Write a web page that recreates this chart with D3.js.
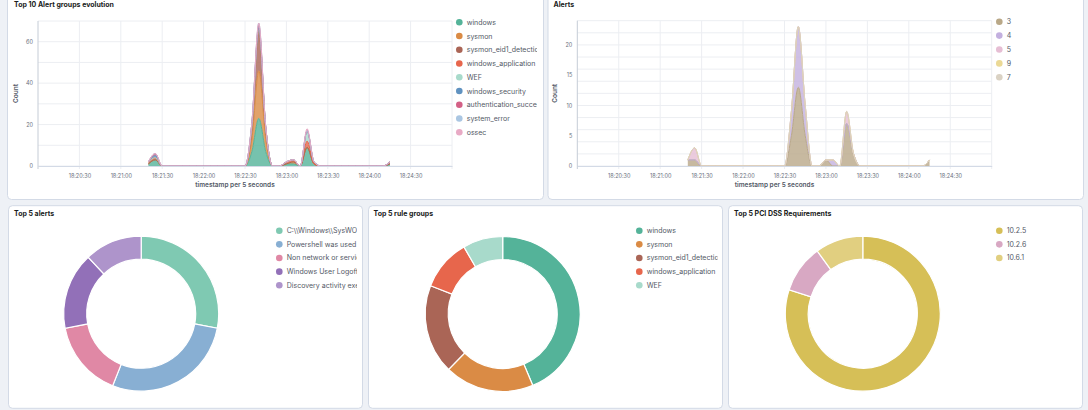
<!DOCTYPE html>
<html>
<head>
<meta charset="utf-8">
<script src="https://cdn.jsdelivr.net/npm/d3@7"></script>
<style>
    body { margin: 0; background: #eef1f6; font-family: Inter, "Noto Sans", sans-serif; }
    svg { display: block; }
</style>
</head>
<body>
<svg id="dash" width="1088" height="410"></svg>
<script>
// date histogram buckets, 5 seconds each
const buckets = [
    "18:21:20","18:21:25","18:21:30","18:21:35","18:21:40","18:21:45","18:21:50","18:21:55",
    "18:22:00","18:22:05","18:22:10","18:22:15","18:22:20","18:22:25","18:22:30","18:22:35","18:22:40","18:22:45","18:22:50","18:22:55",
    "18:23:00","18:23:05","18:23:10","18:23:15","18:23:20","18:23:25","18:23:30","18:23:35","18:23:40","18:23:45","18:23:50","18:23:55",
    "18:24:00","18:24:05","18:24:10","18:24:15"
];
const xDomainLabels = ["18:20:00", "18:25:00"];
const xTickLabels = ["18:20:30","18:21:00","18:21:30","18:22:00","18:22:30","18:23:00","18:23:30","18:24:00","18:24:30"];

// Top 10 Alert groups evolution
const groupNames = ["windows","sysmon","sysmon_eid1_detections","windows_application","WEF","windows_security","authentication_success","system_error","ossec"];
const windowsCounts      = [1,3,0,0,0,0,0,0, 0,0,0,0,0,0,0,7,23,7,0,0, 1,1,0,9,1,0,0,0,0,0,0,0, 0,0,0,1];
const sysmonCounts       = [0,0,0,0,0,0,0,0, 0,0,0,0,0,0,0,6,23,6,0,0, 0,1,0,0,0,0,0,0,0,0,0,0, 0,0,0,0];
const sysmonEid1Counts   = [0,0,0,0,0,0,0,0, 0,0,0,0,0,0,0,5,19,5,0,0, 0,0,0,0,0,0,0,0,0,0,0,0, 0,0,0,0];
const winAppCounts       = [1,1,0,0,0,0,0,0, 0,0,0,0,0,0,0,1,1,1,0,0, 1,1,0,3,0,0,0,0,0,0,0,0, 0,0,0,1];
const wefCounts          = [0,0,0,0,0,0,0,0, 0,0,0,0,0,0,0,0,0,0,0,0, 0,0,0,5,1,0,0,0,0,0,0,0, 0,0,0,0];
const winSecurityCounts  = [0,1,0,0,0,0,0,0, 0,0,0,0,0,0,0,2,1,0,0,0, 0,0,0,0,0,0,0,0,0,0,0,0, 0,0,0,0];
const authSuccessCounts  = [0,1,0,0,0,0,0,0, 0,0,0,0,0,0,0,0,1,0,0,0, 0,0,0,0,0,0,0,0,0,0,0,0, 0,0,0,0];
const systemErrorCounts  = [0,0,0,0,0,0,0,0, 0,0,0,0,0,0,0,0,1,0,0,0, 0,0,0,0,0,0,0,0,0,0,0,0, 0,0,0,0];
const ossecCounts        = [0,0,0,0,0,0,0,0, 0,0,0,0,0,0,0,0,0,0,0,0, 0,0,0,1,0,0,0,0,0,0,0,0, 0,0,0,0];
const groupColors = ["#54B399","#DA8B45","#AA6556","#E7664C","#A8DACB","#6092C0","#D36086","#AAC6E2","#E8AAC5"];

// Alerts by rule level
const levelNames = ["3","4","5","9","7"];
const level3Counts = [1,1,0,0,0,0,0,0, 0,0,0,0,0,0,0,5,13,5,0,0, 1,0,0,7,2,0,0,0,0,0,0,0, 0,0,0,1];
const level4Counts = [0,0,0,0,0,0,0,0, 0,0,0,0,0,0,0,4,10,5,0,0, 0,1,0,0,0,0,0,0,0,0,0,0, 0,0,0,0];
const level5Counts = [0,2,0,0,0,0,0,0, 0,0,0,0,0,0,0,0,0,0,0,0, 0,0,0,2,0,0,0,0,0,0,0,0, 0,0,0,0];
const level9Counts = [0,0,0,0,0,0,0,0, 0,0,0,0,0,0,0,0,0,0,0,0, 0,0,0,0,0,0,0,0,0,0,0,0, 0,0,0,0];
const level7Counts = [0,0,0,0,0,0,0,0, 0,0,0,0,0,0,0,0,0,0,0,0, 0,0,0,0,0,0,0,0,0,0,0,0, 0,0,0,0];
const levelColors = ["#B9A888","#C3B0DF","#E6BED4","#EBD996","#DAD2C4"];

// donuts
const alertNames = ["C:\\\\Windows\\\\SysWOW64\\\\WindowsPowerShell\\\\v1.0\\\\powershell.exe", "Powershell was used to execute a script", "Non network or service logon", "Windows User Logoff.", "Discovery activity executed"];
const alertCounts = [7, 7, 4, 4, 3];
const alertColors = ["#7FC9B2","#88AFD3","#E088A5","#9270B8","#AE94CB"];

const ruleGroupNames = ["windows","sysmon","sysmon_eid1_detections","windows_application","WEF"];
const ruleGroupCounts = [110, 47, 47, 27, 21];
const ruleGroupColors = ["#54B399","#DA8B45","#AA6556","#E7664C","#A8DACB"];

const pciNames = ["10.2.5","10.2.6","10.6.1"];
const pciCounts = [8, 1, 1];
const pciColors = ["#D6BF57","#D8A8C3","#E1CF80"];

const svg = d3.select("#dash");
const parseTime = d3.timeParse("%H:%M:%S");
const textColor = "#343741";
const subdued = "#69707D";

function panel(x, y, w, h, title, tx, ty) {
    svg.append("rect")
        .attr("x", x).attr("y", y).attr("width", w).attr("height", h)
        .attr("rx", 4).attr("fill", "#fff")
        .attr("stroke", "#D3DAE6");
    svg.append("text")
        .attr("x", tx).attr("y", ty)
        .style("font-size", "7px").style("font-weight", 700)
        .attr("fill", "#1a1c21")
        .text(title);
}

function legend(id, names, colors, dotX, top, step, clipRight) {
    svg.append("clipPath").attr("id", id)
        .append("rect").attr("x", dotX - 6).attr("y", top - 8)
        .attr("width", clipRight - dotX + 6).attr("height", step * names.length + 10);
    const g = svg.append("g").attr("clip-path", "url(#" + id + ")");
    names.forEach((n, i) => {
        g.append("circle").attr("cx", dotX).attr("cy", top + i * step).attr("r", 3.3).attr("fill", colors[i]);
        g.append("text").attr("x", dotX + 7.4).attr("y", top + i * step).attr("dy", "0.35em")
            .style("font-size", "7px").attr("fill", "#535966").text(n);
    });
}

function areaChart(opt) {
    const x = d3.scaleTime().domain(xDomainLabels.map(parseTime)).range([opt.left, opt.right]);
    const y = d3.scaleLinear().domain([0, opt.yMax]).range([opt.bottom, opt.top]);

    const rows = buckets.map((b, i) => {
        const r = { time: parseTime(b) };
        opt.keys.forEach((k, j) => { r[k] = opt.series[j][i]; });
        return r;
    });
    const stacked = d3.stack().keys(opt.keys)(rows);

    const grid = svg.append("g").attr("stroke", "#ECEEF2").attr("stroke-width", 1);
    grid.selectAll(".h").data(d3.range(0, opt.yMax + 0.01, opt.gridStep)).enter()
        .append("line")
        .attr("x1", opt.left).attr("x2", opt.right)
        .attr("y1", d => y(d)).attr("y2", d => y(d));
    grid.selectAll(".v").data(xTickLabels.map(parseTime)).enter()
        .append("line")
        .attr("x1", d => x(d)).attr("x2", d => x(d))
        .attr("y1", opt.top).attr("y2", opt.bottom + 3);
    grid.append("line").attr("x1", opt.right).attr("x2", opt.right)
        .attr("y1", opt.top).attr("y2", opt.bottom + 3);

    const area = d3.area()
        .x(d => x(d.data.time))
        .y0(d => y(d[0]))
        .y1(d => y(d[1]))
        .curve(d3.curveMonotoneX);
    const line = d3.line()
        .x(d => x(d.data.time))
        .y(d => y(d[1]))
        .curve(d3.curveMonotoneX);

    svg.append("g").selectAll("path").data(stacked).enter()
        .append("path")
        .attr("d", area)
        .attr("fill", (d, i) => opt.colors[i])
        .attr("fill-opacity", 0.8);
    svg.append("g").selectAll("path").data(stacked).enter()
        .append("path")
        .attr("d", line)
        .attr("fill", "none")
        .attr("stroke", (d, i) => opt.colors[i])
        .attr("stroke-width", 1);

    // axes
    const xAxis = svg.append("g")
        .attr("transform", "translate(0," + opt.bottom + ")")
        .call(d3.axisBottom(x).tickValues(xTickLabels.map(parseTime))
            .tickFormat(d3.timeFormat("%H:%M:%S")).tickSize(0).tickPadding(8));
    xAxis.select(".domain").attr("stroke", "#D3DAE6");
    xAxis.selectAll("text").style("font-size", "5.5px").style("font-family", "Inter").attr("fill", subdued);

    const yAxis = svg.append("g")
        .attr("transform", "translate(" + opt.left + ",0)")
        .call(d3.axisLeft(y).tickValues(opt.yTicks).tickSize(0).tickPadding(5));
    yAxis.select(".domain").remove();
    yAxis.selectAll("text").style("font-size", "5.5px").style("font-family", "Inter").attr("fill", subdued);
    yAxis.append("line").attr("x1", 0).attr("x2", 0)
        .attr("y1", opt.top).attr("y2", opt.bottom + 3).attr("stroke", "#C5CCD6");

    svg.append("text")
        .attr("x", (opt.left + opt.right) / 2 - 10).attr("y", opt.bottom + 21)
        .attr("text-anchor", "middle")
        .style("font-size", "6.5px").style("font-weight", 600)
        .attr("fill", "#535966")
        .text("timestamp per 5 seconds");
    svg.append("text")
        .attr("transform", "translate(" + (opt.left - 20) + "," + ((opt.top + opt.bottom) / 2) + ") rotate(-90)")
        .attr("text-anchor", "middle")
        .style("font-size", "6.5px").style("font-weight", 600)
        .attr("fill", "#535966")
        .text("Count");
}

function donut(cx, cy, counts, colors) {
    const arc = d3.arc().innerRadius(54.5).outerRadius(77.5);
    const pie = d3.pie().sort(null).value(d => d);
    svg.append("g")
        .attr("transform", "translate(" + cx + "," + cy + ")")
        .selectAll("path").data(pie(counts)).enter()
        .append("path")
        .attr("d", arc)
        .attr("fill", (d, i) => colors[i])
        .attr("stroke", "#fff")
        .attr("stroke-width", 1.2);
}

// panels
panel(7.5, -5, 536, 204.5, "Top 10 Alert groups evolution", 14, 7);
panel(548, -5, 535.5, 204.5, "Alerts", 553.5, 7);
panel(8.5, 205.7, 354, 202.6, "Top 5 alerts", 14, 216);
panel(368.5, 205.7, 354, 202.6, "Top 5 rule groups", 373.5, 216);
panel(728.5, 205.7, 354, 202.6, "Top 5 PCI DSS Requirements", 734, 216);

areaChart({
    left: 38, right: 452, top: 21, bottom: 166,
    yMax: 70, gridStep: 10, yTicks: [0, 20, 40, 60],
    keys: groupNames,
    series: [windowsCounts, sysmonCounts, sysmonEid1Counts, winAppCounts, wefCounts,
             winSecurityCounts, authSuccessCounts, systemErrorCounts, ossecCounts],
    colors: groupColors
});
legend("lg1", groupNames, groupColors, 459.3, 22.3, 13.75, 537);

areaChart({
    left: 577.3, right: 991.7, top: 20.7, bottom: 166,
    yMax: 24, gridStep: 2, yTicks: [0, 5, 10, 15, 20],
    keys: levelNames,
    series: [level3Counts, level4Counts, level5Counts, level9Counts, level7Counts],
    colors: levelColors
});
legend("lg2", levelNames, levelColors, 999.3, 21.7, 13.9, 1075);

donut(141.2, 313.7, alertCounts, alertColors);
legend("lg3", alertNames, alertColors, 279.3, 230.7, 13.65, 357);

donut(502.7, 314, ruleGroupCounts, ruleGroupColors);
legend("lg4", ruleGroupNames, ruleGroupColors, 639.3, 230.7, 13.65, 717.5);

donut(862.8, 313.7, pciCounts, pciColors);
legend("lg5", pciNames, pciColors, 999.3, 230.7, 13.65, 1075);
</script>
</body>
</html>
